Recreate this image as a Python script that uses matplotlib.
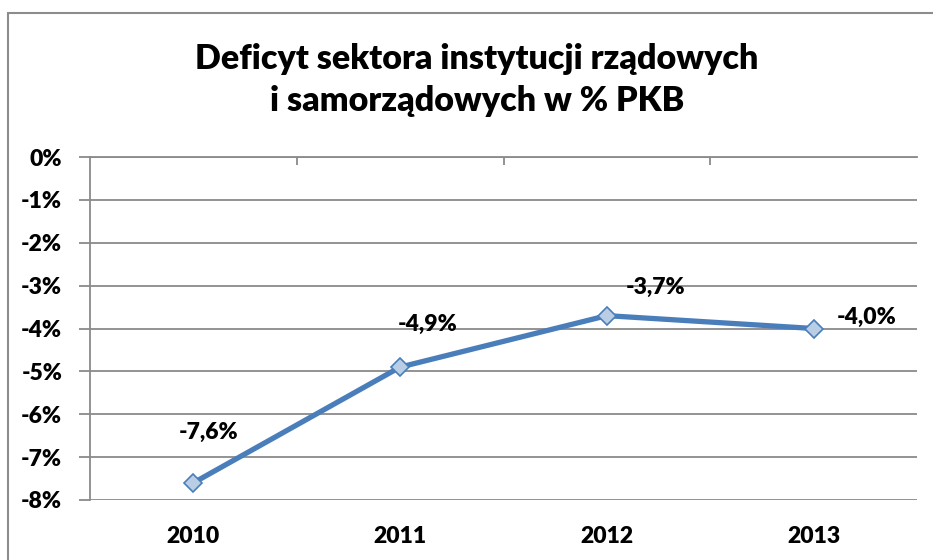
import matplotlib.pyplot as plt
from matplotlib.patches import Rectangle
from matplotlib.ticker import FixedLocator

years = ['2010', '2011', '2012', '2013']
deficit = [-7.6, -4.9, -3.7, -4.0]
labels = ['-7,6%', '-4,9%', '-3,7%', '-4,0%']
# manual label offsets (points) like in the original Excel chart
label_offsets = [(11, 36), (20, 31), (35, 20), (38, 8)]
yticks = [0, -1, -2, -3, -4, -5, -6, -7, -8]

plt.rcParams['font.family'] = ['Lato', 'DejaVu Sans']
plt.rcParams['font.weight'] = 'heavy'

W, H = 933, 560
fig = plt.figure(figsize=(W / 100, H / 100), dpi=100)
ax = fig.add_axes([90 / W, 60 / H, 827 / W, 343 / H])

# outer chart frame
fig.patches.append(Rectangle((8 / W, -0.1), 1.1, (H - 13) / H + 0.1,
                             transform=fig.transFigure, fill=False,
                             edgecolor='#8c8c8c', linewidth=1.5, clip_on=False))

grid_c = '#8a8a8a'
fs = 16.5
x = range(len(years))
ax.plot(x, deficit, color='#4A7EBB', linewidth=3.8, marker='D', markersize=9.5,
        markerfacecolor='#B9CDE5', markeredgecolor='#4A7EBB', markeredgewidth=1.2,
        zorder=3)

for xi, v, lab, off in zip(x, deficit, labels, label_offsets):
    ax.annotate(lab, (xi, v), xytext=off, textcoords='offset points',
                ha='center', va='center', fontsize=fs, fontweight='heavy')

ax.set_xlim(-0.5, 3.5)
ax.set_ylim(-8, 0)
ax.set_yticks(yticks)
ax.set_yticklabels([f'{t}%' for t in yticks])
ax.yaxis.grid(True, color=grid_c, linewidth=1.3)
ax.set_axisbelow(True)

ax.set_xticks(list(x))
ax.set_xticklabels(years)
ax.xaxis.set_minor_locator(FixedLocator([0.5, 1.5, 2.5]))
ax.tick_params(axis='x', which='major', length=0, pad=19, labelsize=fs)
ax.tick_params(axis='x', which='minor', top=True, bottom=False, direction='in',
               length=6, width=1.3, color=grid_c)
ax.tick_params(axis='y', length=8, width=1.3, color=grid_c, pad=12, labelsize=fs)

for s in ['right', 'bottom']:
    ax.spines[s].set_visible(False)
for s in ['left', 'top']:
    ax.spines[s].set_color(grid_c)
    ax.spines[s].set_linewidth(1.3)

fig.text(477 / W, 1 - 80 / H, 'Deficyt sektora instytucji rządowych\ni samorządowych w % PKB',
         ha='center', va='center', fontsize=24.5, fontweight='heavy', linespacing=1.4)

fig.savefig('out.png', dpi=100)
